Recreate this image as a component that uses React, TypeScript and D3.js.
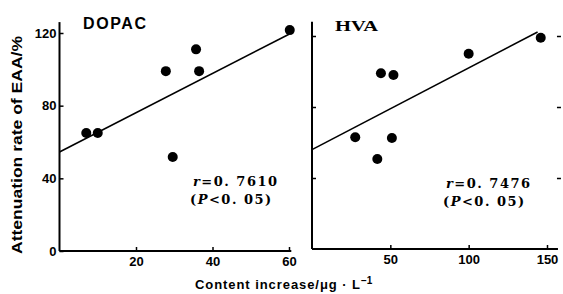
import * as d3 from "d3";
import {useEffect, useRef} from "react";

// DOPAC panel
const dopacX = [7, 10, 27.8, 29.6, 35.7, 36.5, 60.2];
const dopacY = [65, 65, 99, 51.7, 111, 99, 121.6];
const dopacFit = {intercept: 54.5, slope: 1.08, from: 0, to: 60};
const dopacTicks = [20, 40, 60];

// HVA panel
const hvaX = [27.6, 41.7, 44, 51, 52, 100, 146];
const hvaY = [63, 50.7, 99, 62.5, 98, 110, 119];
const hvaFit = {intercept: 56, slope: 0.46, from: 0, to: 144};
const hvaTicks = [50, 100, 150];

const yTicks = [0, 40, 80, 120];

const font = "'Liberation Sans', Arial, sans-serif";
const serif = "'Liberation Serif', 'Times New Roman', serif";
const annFont = "'DejaVu Serif', serif";

export default function App() {
    const svgRef = useRef<SVGSVGElement>(null);

    useEffect(() => {
        if (!svgRef.current) return;
        const svg = d3.select(svgRef.current);
        svg.selectAll("*").remove();

        const panels = [
            {
                name: "DOPAC", nameX: 83, nameY: 29, nameFont: font, nameSize: 16, nameLen: 63, nameAdjust: "spacing",
                xs: dopacX, ys: dopacY, fit: dopacFit, ticks: dopacTicks,
                x: d3.scaleLinear().domain([0, 60]).range([59.5, 289]),
                y: d3.scaleLinear().domain([0, 120]).range([251, 33]),
                xMax: 60.6, yMax: 126, yLabels: true, rightTicks: false,
                r: "0.7610", annX: 193, annY: 186,
            },
            {
                name: "HVA", nameX: 335, nameY: 31, nameFont: serif, nameSize: 15, nameLen: 43, nameAdjust: "spacingAndGlyphs",
                xs: hvaX, ys: hvaY, fit: hvaFit, ticks: hvaTicks,
                x: d3.scaleLinear().domain([0, 150]).range([312, 547]),
                y: d3.scaleLinear().domain([0, 120]).range([249, 36]),
                xMax: 157, yMax: 128, yLabels: false, rightTicks: true,
                r: "0.7476", annX: 446, annY: 188,
            },
        ];

        panels.forEach(p => {
            const g = svg.append("g");

            // x axis
            g.append("g")
                .attr("transform", `translate(0,${p.y(0)})`)
                .call(d3.axisBottom(p.x).tickValues(p.ticks).tickSizeInner(-4).tickSizeOuter(0).tickPadding(6).tickFormat(d3.format("d")))
                .call(a => a.select(".domain").remove())
                .call(a => a.selectAll("text").attr("font-family", font).attr("font-weight", "bold").attr("font-size", 13).attr("fill", "#000"))
                .call(a => a.selectAll("line").attr("stroke", "#000").attr("stroke-width", 1.5));
            g.append("line")
                .attr("x1", p.x(0)).attr("x2", p.x(p.xMax))
                .attr("y1", p.y(0)).attr("y2", p.y(0))
                .attr("stroke", "#000").attr("stroke-width", 2);

            // y axis
            g.append("g")
                .attr("transform", `translate(${p.x(0)},0)`)
                .call(d3.axisLeft(p.y).tickValues(p.yLabels ? yTicks : yTicks.slice(1)).tickSizeInner(-4).tickSizeOuter(0).tickPadding(3)
                    .tickFormat(p.yLabels ? d3.format("d") : () => ""))
                .call(a => a.select(".domain").remove())
                .call(a => a.selectAll("text").attr("font-family", font).attr("font-weight", "bold").attr("font-size", 13).attr("fill", "#000"))
                .call(a => a.selectAll("line").attr("stroke", "#000").attr("stroke-width", 1.5));
            g.append("line")
                .attr("x1", p.x(0)).attr("x2", p.x(0))
                .attr("y1", p.y(0)).attr("y2", p.y(p.yMax))
                .attr("stroke", "#000").attr("stroke-width", 2);

            if (p.rightTicks) {
                g.append("g")
                    .attr("transform", `translate(${p.x(p.xMax) + 3},0)`)
                    .call(d3.axisRight(p.y).tickValues(yTicks.slice(1)).tickSizeInner(-4).tickSizeOuter(0).tickFormat(() => ""))
                    .call(a => a.select(".domain").remove())
                    .call(a => a.selectAll("line").attr("stroke", "#000").attr("stroke-width", 1.5));
            }

            // regression line
            g.append("line")
                .attr("x1", p.x(p.fit.from)).attr("y1", p.y(p.fit.intercept + p.fit.slope * p.fit.from))
                .attr("x2", p.x(p.fit.to)).attr("y2", p.y(p.fit.intercept + p.fit.slope * p.fit.to))
                .attr("stroke", "#000").attr("stroke-width", 1.6);

            // points
            g.append("g")
                .selectAll("circle")
                .data(p.xs.map((v, i) => [v, p.ys[i]]))
                .join("circle")
                .attr("cx", d => p.x(d[0]))
                .attr("cy", d => p.y(d[1]))
                .attr("r", 5)
                .attr("fill", "#000");

            // panel name
            g.append("text")
                .attr("x", p.nameX).attr("y", p.nameY)
                .attr("font-family", p.nameFont).attr("font-weight", "bold").attr("font-size", p.nameSize)
                .attr("textLength", p.nameLen).attr("lengthAdjust", p.nameAdjust)
                .text(p.name);

            // annotation
            const ann = g.append("text")
                .attr("font-family", annFont).attr("font-size", 13).attr("font-weight", "bold")
                .attr("letter-spacing", 1.5);
            const l1 = ann.append("tspan").attr("x", p.annX).attr("y", p.annY);
            l1.append("tspan").attr("font-style", "italic").text("r");
            l1.append("tspan").text(`=0. ${p.r.slice(2)}`);
            const l2 = ann.append("tspan").attr("x", p.annX - 3).attr("y", p.annY + 18);
            l2.append("tspan").text("(");
            l2.append("tspan").attr("font-style", "italic").text("P");
            l2.append("tspan").text("<0. 05)");
        });

        // axis titles
        svg.append("text")
            .attr("transform", "translate(22,145) rotate(-90)")
            .attr("text-anchor", "middle")
            .attr("font-family", font).attr("font-weight", "bold").attr("font-size", 15)
            .attr("textLength", 218).attr("lengthAdjust", "spacingAndGlyphs")
            .text("Attenuation rate of EAA/%");

        const xt = svg.append("text")
            .attr("y", 289)
            .attr("font-family", font).attr("font-weight", "bold").attr("font-size", 13);
        xt.append("tspan").attr("x", 195)
            .attr("textLength", 165).attr("lengthAdjust", "spacing")
            .text("Content increase/μg · L");
        xt.append("tspan").attr("dy", -5).attr("font-size", 10).text("−1");
    }, []);

    return (
        <svg ref={svgRef} width={563} height={294}
             style={{position: "absolute", left: 0, top: 0, background: "#fff"}} />
    );
}
